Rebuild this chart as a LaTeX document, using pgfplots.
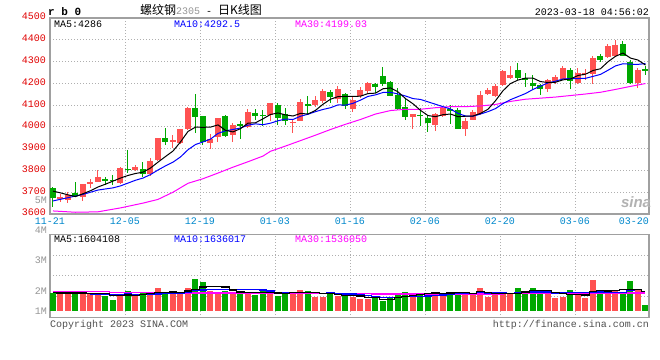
\documentclass[border=0pt]{standalone}
\usepackage{fontspec}
\setmainfont{Liberation Mono}
\newfontfamily\cjk{Noto Sans CJK SC}
\newfontfamily\sansf{Liberation Sans}
\usepackage{pgfplots}
\usepackage{pgfplotstable}
\pgfplotsset{compat=1.18}
\definecolor{upred}{RGB}{255,82,82}
\definecolor{dngreen}{RGB}{0,168,0}
\definecolor{tickred}{RGB}{225,0,0}
\definecolor{tickblue}{RGB}{0,136,204}
\definecolor{brd}{RGB}{160,160,160}
\definecolor{grd}{RGB}{175,175,175}
\definecolor{mablue}{RGB}{0,0,255}
\definecolor{mamag}{RGB}{255,0,255}
\definecolor{volgray}{RGB}{150,150,150}
\definecolor{txtgray}{RGB}{80,80,80}
\newcommand\tf{\fontsize{10bp}{12bp}\selectfont}

% up (red) candles: index, open, high, low, close
\pgfplotstableread[row sep=\\]{
k O H L C\\
1 3668 3694 3655 3680\\
2 3662 3702 3652 3688\\
4 3678 3740 3658 3738\\
5 3736 3760 3720 3745\\
6 3748 3802 3746 3768\\
9 3742 3815 3738 3812\\
11 3802 3825 3798 3814\\
13 3783 3855 3775 3845\\
14 3848 3950 3845 3948\\
16 3932 3962 3902 3940\\
17 3928 3992 3920 3990\\
18 3990 4090 3987 4087\\
21 3928 3968 3898 3944\\
22 3952 4043 3930 4040\\
24 3965 4018 3932 4009\\
26 4001 4081 3993 4070\\
29 4053 4110 4026 4109\\
32 4018 4030 3972 4023\\
33 4029 4128 4026 4113\\
35 4100 4140 4091 4125\\
36 4120 4174 4110 4167\\
38 4129 4190 4110 4174\\
40 4084 4140 4067 4125\\
41 4140 4181 4132 4170\\
42 4167 4206 4155 4201\\
48 4046 4061 3992 4061\\
51 4008 4064 3983 4060\\
52 4050 4097 4047 4088\\
55 3990 4041 3958 4028\\
56 4033 4079 4030 4068\\
57 4058 4166 4055 4148\\
58 4150 4178 4146 4170\\
59 4140 4198 4135 4188\\
60 4191 4260 4187 4255\\
61 4225 4278 4222 4236\\
66 4173 4222 4161 4217\\
67 4210 4237 4199 4229\\
68 4222 4278 4217 4272\\
70 4203 4272 4196 4249\\
71 4244 4267 4214 4249\\
72 4245 4324 4199 4316\\
74 4321 4379 4316 4370\\
75 4324 4400 4321 4374\\
78 4202 4272 4180 4263\\
}\upc
% down (green) candles
\pgfplotstableread[row sep=\\]{
k O H L C\\
0 3720 3724 3630 3675\\
3 3695 3748 3676 3683\\
7 3762 3772 3735 3750\\
8 3757 3778 3735 3752\\
10 3808 3893 3788 3802\\
12 3805 3838 3772 3782\\
15 3947 3993 3915 3932\\
19 4086 4150 3972 4045\\
20 4049 4052 3918 3930\\
23 4051 4054 3955 3960\\
25 4012 4026 3944 4005\\
27 4066 4080 4030 4049\\
28 4056 4076 4005 4050\\
30 4102 4110 4010 4040\\
31 4060 4087 4010 4026\\
34 4106 4143 4056 4094\\
37 4158 4170 4110 4137\\
39 4152 4155 4082 4097\\
43 4198 4201 4155 4181\\
44 4234 4277 4189 4198\\
45 4204 4213 4140 4143\\
46 4148 4178 4076 4084\\
47 4090 4132 4030 4044\\
49 4056 4087 4003 4049\\
50 4042 4055 3978 4020\\
53 4082 4100 4014 4076\\
54 4079 4087 3991 3992\\
62 4260 4293 4217 4225\\
63 4226 4248 4184 4216\\
64 4202 4240 4168 4188\\
65 4191 4196 4145 4173\\
69 4260 4270 4173 4211\\
73 4324 4333 4298 4309\\
76 4379 4394 4324 4325\\
77 4298 4309 4196 4202\\
79 4266 4280 4238 4255\\
}\dnc
% moving averages of price
\pgfplotstableread[row sep=\\]{
k v\\
0 3705\\ 1 3697\\ 2 3688\\ 3 3680\\ 4 3693\\ 5 3707\\ 6 3724\\ 7 3737\\ 8 3751\\ 9 3765\\
10 3777\\ 11 3786\\ 12 3792\\ 13 3811\\ 14 3838\\ 15 3864\\ 16 3889\\ 17 3931\\ 18 3979\\ 19 3999\\
20 3998\\ 21 3999\\ 22 4009\\ 23 3984\\ 24 3977\\ 25 3992\\ 26 4017\\ 27 4019\\ 28 4037\\ 29 4057\\
30 4064\\ 31 4055\\ 32 4050\\ 33 4062\\ 34 4059\\ 35 4076\\ 36 4104\\ 37 4127\\ 38 4139\\ 39 4140\\
40 4140\\ 41 4141\\ 42 4153\\ 43 4155\\ 44 4175\\ 45 4179\\ 46 4161\\ 47 4130\\ 48 4106\\ 49 4076\\
50 4052\\ 51 4047\\ 52 4056\\ 53 4059\\ 54 4047\\ 55 4049\\ 56 4050\\ 57 4062\\ 58 4081\\ 59 4120\\
60 4166\\ 61 4199\\ 62 4215\\ 63 4224\\ 64 4224\\ 65 4208\\ 66 4204\\ 67 4205\\ 68 4216\\ 69 4220\\
70 4236\\ 71 4242\\ 72 4259\\ 73 4267\\ 74 4299\\ 75 4324\\ 76 4339\\ 77 4316\\ 78 4307\\ 79 4284\\
}\mafive
\pgfplotstableread[row sep=\\]{
k v\\
0 3660\\ 2 3675\\ 4 3690\\ 6 3710\\ 8 3720\\ 9 3729\\
10 3742\\ 11 3755\\ 12 3765\\ 13 3781\\ 14 3802\\ 15 3821\\ 16 3838\\ 17 3862\\ 18 3895\\ 19 3919\\
20 3931\\ 21 3944\\ 22 3970\\ 23 3982\\ 24 3988\\ 25 3995\\ 26 4008\\ 27 4014\\ 28 4010\\ 29 4017\\
30 4028\\ 31 4036\\ 32 4034\\ 33 4049\\ 34 4058\\ 35 4070\\ 36 4080\\ 37 4088\\ 38 4101\\ 39 4100\\
40 4108\\ 41 4123\\ 42 4140\\ 43 4147\\ 44 4158\\ 45 4159\\ 46 4151\\ 47 4142\\ 48 4130\\ 49 4126\\
50 4115\\ 51 4104\\ 52 4093\\ 53 4082\\ 54 4062\\ 55 4050\\ 56 4049\\ 57 4059\\ 58 4070\\ 59 4084\\
60 4107\\ 61 4125\\ 62 4139\\ 63 4153\\ 64 4172\\ 65 4187\\ 66 4202\\ 67 4210\\ 68 4220\\ 69 4222\\
70 4222\\ 71 4223\\ 72 4232\\ 73 4241\\ 74 4260\\ 75 4280\\ 76 4290\\ 77 4288\\ 78 4287\\ 79 4291\\
}\maten
\pgfplotstableread[row sep=\\]{
k v\\
0 3614\\ 3 3608\\ 6 3610\\ 9 3628\\ 12 3650\\ 14 3667\\ 16 3700\\ 18 3741\\ 20 3762\\ 22 3788\\
24 3815\\ 26 3840\\ 28 3866\\ 29 3888\\ 31 3912\\ 33 3937\\ 35 3962\\ 37 3988\\ 39 4012\\ 41 4034\\
43 4059\\ 45 4075\\ 47 4081\\ 49 4081\\ 51 4088\\ 53 4093\\ 55 4093\\ 57 4096\\ 59 4103\\ 61 4117\\
63 4127\\ 65 4132\\ 67 4137\\ 69 4144\\ 71 4151\\ 73 4159\\ 75 4172\\ 77 4186\\ 79 4199\\
}\mathirty
% volume (millions)
\pgfplotstableread[row sep=\\]{
k V\\
1 1.69\\ 2 1.66\\ 4 1.69\\ 5 1.66\\ 6 1.66\\ 9 1.65\\ 11 1.58\\ 13 1.64\\ 14 1.90\\ 16 1.66\\
17 1.69\\ 18 1.90\\ 21 1.79\\ 22 1.71\\ 24 1.71\\ 26 1.74\\ 29 1.79\\ 32 1.74\\ 33 1.82\\ 35 1.56\\
36 1.56\\ 38 1.58\\ 40 1.53\\ 41 1.45\\ 42 1.45\\ 48 1.62\\ 51 1.74\\ 52 1.62\\ 55 1.74\\ 56 1.62\\
57 1.90\\ 58 1.56\\ 59 1.62\\ 60 1.69\\ 61 1.69\\ 66 1.69\\ 67 1.51\\ 68 1.56\\ 70 1.69\\ 71 1.51\\
72 2.21\\ 74 1.69\\ 75 1.82\\ 78 1.84\\
}\upv
\pgfplotstableread[row sep=\\]{
k V\\
0 1.71\\ 3 1.75\\ 7 1.58\\ 8 1.43\\ 10 1.79\\ 12 1.74\\ 15 1.74\\ 19 2.25\\ 20 2.13\\ 23 1.77\\
25 1.74\\ 27 1.61\\ 28 1.77\\ 30 1.58\\ 31 1.69\\ 34 1.78\\ 37 1.66\\ 39 1.66\\ 43 1.49\\ 44 1.40\\
45 1.53\\ 46 1.69\\ 47 1.74\\ 49 1.69\\ 50 1.69\\ 53 1.74\\ 54 1.74\\ 62 1.90\\ 63 1.78\\ 64 1.90\\
65 1.69\\ 69 1.82\\ 73 1.78\\ 76 1.74\\ 77 2.17\\ 79 1.23\\
}\dnv
\pgfplotstableread[row sep=\\]{
k v\\
0 1.71\\ 1 1.70\\ 2 1.70\\ 3 1.70\\ 4 1.70\\ 5 1.69\\ 6 1.68\\ 7 1.67\\ 8 1.60\\ 9 1.60\\
10 1.62\\ 11 1.61\\ 12 1.64\\ 13 1.68\\ 14 1.73\\ 15 1.72\\ 16 1.74\\ 17 1.73\\ 18 1.78\\ 19 1.85\\
20 1.93\\ 21 1.95\\ 22 1.96\\ 23 1.93\\ 24 1.82\\ 25 1.74\\ 26 1.73\\ 27 1.71\\ 28 1.71\\ 29 1.73\\
30 1.70\\ 31 1.69\\ 32 1.71\\ 33 1.72\\ 34 1.72\\ 35 1.72\\ 36 1.69\\ 37 1.68\\ 38 1.63\\ 39 1.60\\
40 1.60\\ 41 1.58\\ 42 1.53\\ 43 1.52\\ 44 1.46\\ 45 1.46\\ 46 1.51\\ 47 1.57\\ 48 1.60\\ 49 1.65\\
50 1.69\\ 51 1.70\\ 52 1.67\\ 53 1.70\\ 54 1.71\\ 55 1.72\\ 56 1.69\\ 57 1.75\\ 58 1.71\\ 59 1.69\\
60 1.68\\ 61 1.69\\ 62 1.69\\ 63 1.74\\ 64 1.79\\ 65 1.79\\ 66 1.79\\ 67 1.71\\ 68 1.67\\ 69 1.65\\
70 1.65\\ 71 1.62\\ 72 1.76\\ 73 1.80\\ 74 1.78\\ 75 1.80\\ 76 1.85\\ 77 1.84\\ 78 1.85\\ 79 1.76\\
}\vfive
\pgfplotstableread[row sep=\\]{
k v\\
0 1.72\\ 2 1.70\\ 4 1.68\\ 6 1.66\\ 8 1.65\\ 9 1.65\\
10 1.66\\ 11 1.65\\ 12 1.65\\ 13 1.64\\ 14 1.66\\ 15 1.67\\ 16 1.67\\ 17 1.68\\ 18 1.73\\ 19 1.79\\
20 1.82\\ 21 1.84\\ 22 1.84\\ 23 1.85\\ 24 1.84\\ 25 1.84\\ 26 1.84\\ 27 1.84\\ 28 1.82\\ 29 1.78\\
30 1.72\\ 31 1.71\\ 32 1.71\\ 33 1.72\\ 34 1.73\\ 35 1.71\\ 36 1.69\\ 37 1.70\\ 38 1.68\\ 39 1.66\\
40 1.66\\ 41 1.63\\ 42 1.61\\ 43 1.57\\ 44 1.53\\ 45 1.53\\ 46 1.54\\ 47 1.55\\ 48 1.56\\ 49 1.56\\
50 1.58\\ 51 1.60\\ 52 1.62\\ 53 1.65\\ 54 1.68\\ 55 1.70\\ 56 1.69\\ 57 1.71\\ 58 1.70\\ 59 1.70\\
60 1.70\\ 61 1.69\\ 62 1.72\\ 63 1.72\\ 64 1.74\\ 65 1.74\\ 66 1.74\\ 67 1.70\\ 68 1.70\\ 69 1.72\\
70 1.72\\ 71 1.71\\ 72 1.74\\ 73 1.74\\ 74 1.72\\ 75 1.73\\ 76 1.73\\ 77 1.80\\ 78 1.83\\ 79 1.77\\
}\vten
\pgfplotstableread[row sep=\\]{
k v\\
0 1.77\\ 5 1.75\\ 10 1.72\\ 20 1.70\\ 30 1.69\\ 40 1.69\\ 45 1.66\\ 55 1.66\\ 65 1.67\\ 72 1.69\\ 79 1.70\\
}\vthirty

\pgfplotsset{
  panel/.style={
    anchor=south west, scale only axis, width=599bp,
    xmin=-0.4, xmax=79.47,
    axis line style={draw=brd, line width=1.3bp},
    major tick length=0pt, tick style={draw=none},
    grid=major,
    major grid style={draw=grd, line width=0.8bp, dash pattern=on 1bp off 2bp},
    every tick label/.append style={font=\tf},
    clip=true,
  },
  wick/.style={draw=none, mark=none, forget plot,
    error bars/.cd, y dir=both, y explicit, error mark=none,
    error bar style={draw=#1, solid, line width=1bp}},
  body/.style={draw=none, mark=none, forget plot,
    error bars/.cd, y dir=both, y explicit, error mark=none,
    error bar style={draw=#1, solid, line width=6bp}},
}

\begin{document}
\begin{tikzpicture}
\fill[white] (0,0) rectangle (660bp,360bp);
\path[use as bounding box] (0,0) rectangle (660bp,360bp);

% ---------- price panel ----------
\begin{axis}[panel, at={(50bp,146bp)}, height=196bp,
  ymin=3600, ymax=4500,
  xtick={-0.4,9.6,19.6,29.6,39.6,49.6,59.6,69.6},
  xticklabels={11-21,12-05,12-19,01-03,01-16,02-06,02-20,03-06},
  ytick={3600,3700,3800,3900,4000,4100,4200,4300,4400,4500},
  yticklabels={3600,3700,3800,3900,4000,4100,4200,4300,4400,4500},
  xticklabel style={anchor=north, inner sep=0pt, yshift=-3.8bp, text=tickblue},
  yticklabel style={anchor=east, inner sep=0pt, xshift=-4bp, yshift=1.4bp, text=tickred},
]
\addplot[wick=dngreen] table[x=k, y expr={(\thisrow{H}+\thisrow{L})/2}, y error expr={(\thisrow{H}-\thisrow{L})/2}] {\dnc};
\addplot[body=dngreen] table[x=k, y expr={(\thisrow{O}+\thisrow{C})/2}, y error expr={max(abs(\thisrow{O}-\thisrow{C})/2,2.5)}] {\dnc};
\addplot[wick=upred] table[x=k, y expr={(\thisrow{H}+\thisrow{L})/2}, y error expr={(\thisrow{H}-\thisrow{L})/2}] {\upc};
\addplot[body=upred] table[x=k, y expr={(\thisrow{O}+\thisrow{C})/2}, y error expr={max(abs(\thisrow{O}-\thisrow{C})/2,2.5)}] {\upc};
\addplot[mamag, line width=1bp, mark=none] table[x=k, y=v] {\mathirty};
\addplot[mablue, line width=1bp, mark=none] table[x=k, y=v] {\maten};
\addplot[black, line width=1bp, mark=none] table[x=k, y=v] {\mafive};
\end{axis}

% ---------- volume panel ----------
\begin{axis}[panel, at={(50bp,42.3bp)}, height=83.4bp,
  ymin=0.739, ymax=3.984,
  xtick={9.6,19.6,29.6,39.6,49.6,59.6,69.6}, xticklabels={},
  ytick={1.55,2.37,3.15}, yticklabels={},
]
\addplot[body=dngreen] table[x=k, y expr={(\thisrow{V}+1)/2}, y error expr={(\thisrow{V}-1)/2}] {\dnv};
\addplot[body=upred] table[x=k, y expr={(\thisrow{V}+1)/2}, y error expr={(\thisrow{V}-1)/2}] {\upv};
\addplot[mamag, line width=1.2bp, mark=none, const plot mark mid] table[x=k, y=v] {\vthirty};
\addplot[mablue, line width=1.2bp, mark=none, const plot mark mid] table[x=k, y=v] {\vten};
\addplot[black, line width=1.2bp, mark=none, const plot mark mid] table[x=k, y=v] {\vfive};
\end{axis}

% ---------- texts ----------
\node[anchor=base west, inner sep=0pt, font=\fontsize{11bp}{12bp}\selectfont\bfseries] at (48bp,344bp) {r b 0};
\node[anchor=base west, inner sep=0pt] at (140bp,345bp)
  {{\cjk\fontsize{12bp}{12bp}\selectfont 螺纹钢}{\tf\color{volgray}2305}{\tf{} - }{\cjk\fontsize{12bp}{12bp}\selectfont 日K线图}};
\node[anchor=base east, inner sep=0pt, font=\tf] at (649bp,344bp) {2023-03-18 04:56:02};
\node[anchor=base west, inner sep=0pt, font=\tf] at (54bp,332.7bp) {MA5:4286};
\node[anchor=base west, inner sep=0pt, font=\tf, text=mablue] at (174bp,332.7bp) {MA10:4292.5};
\node[anchor=base west, inner sep=0pt, font=\tf, text=mamag] at (295bp,332.7bp) {MA30:4199.03};
\node[anchor=north east, inner sep=0pt, font=\tf, text=tickblue] at (649bp,142.2bp) {03-20};
\node[font=\sansf\fontsize{15bp}{15bp}\selectfont\bfseries\itshape, text=black!30] at (636bp,158bp) {sina};

\node[anchor=base west, inner sep=0pt, font=\tf] at (54bp,117.7bp) {MA5:1604108};
\node[anchor=base west, inner sep=0pt, font=\tf, text=mablue] at (174bp,117.7bp) {MA10:1636017};
\node[anchor=base west, inner sep=0pt, font=\tf, text=mamag] at (295bp,117.7bp) {MA30:1536050};

\node[anchor=east, inner sep=0pt, font=\tf, text=volgray] at (47bp,160bp) {5M};
\node[anchor=east, inner sep=0pt, font=\tf, text=volgray] at (47bp,129.3bp) {4M};
\node[anchor=east, inner sep=0pt, font=\tf, text=volgray] at (47bp,99.3bp) {3M};
\node[anchor=east, inner sep=0pt, font=\tf, text=volgray] at (47bp,69.3bp) {2M};
\node[anchor=east, inner sep=0pt, font=\tf, text=volgray] at (47bp,48.3bp) {1M};

\node[anchor=base west, inner sep=0pt, font=\tf, text=txtgray] at (50bp,33bp) {Copyright 2023 SINA.COM};
\node[anchor=base east, inner sep=0pt, font=\tf, text=txtgray] at (649bp,33bp) {http://finance.sina.com.cn};
\end{tikzpicture}
\end{document}
